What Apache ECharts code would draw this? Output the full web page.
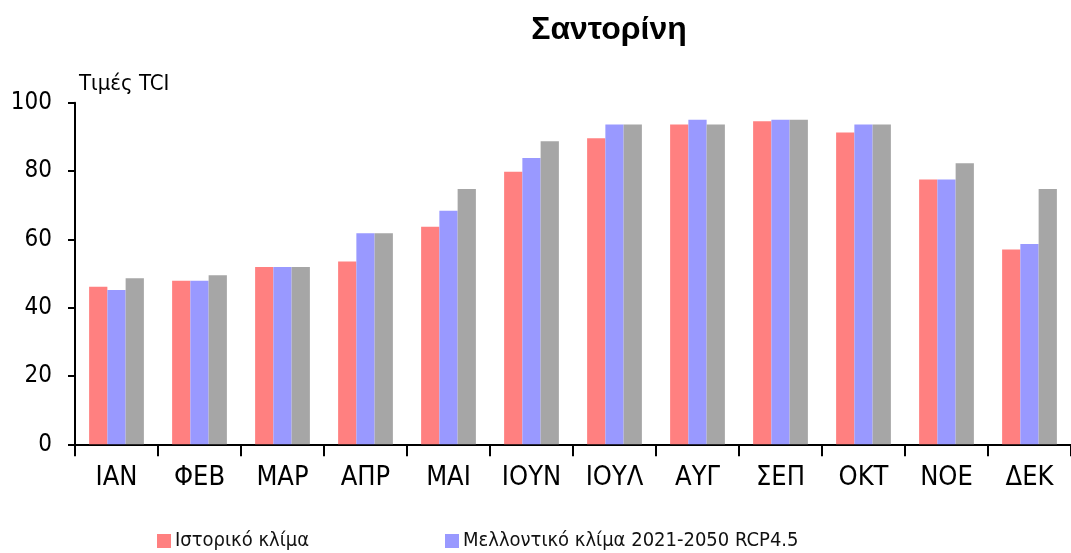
<!DOCTYPE html>
<html>
<head>
<meta charset="utf-8">
<script src="https://cdn.jsdelivr.net/npm/echarts@6/dist/echarts.min.js"></script>
<style>
  html, body { margin: 0; padding: 0; background: #ffffff; }
  #chart { width: 1071px; height: 553px; }
</style>
</head>
<body>
<div id="chart"></div>
<script>
// Monthly Tourism Climate Index (TCI) values for Santorini
const months = ['ΙΑΝ', 'ΦΕΒ', 'ΜΑΡ', 'ΑΠΡ', 'ΜΑΙ', 'ΙΟΥΝ', 'ΙΟΥΛ', 'ΑΥΓ', 'ΣΕΠ', 'ΟΚΤ', 'ΝΟΕ', 'ΔΕΚ'];
const historical = [46.1, 47.9, 51.9, 53.5, 63.7, 79.8, 89.6, 93.6, 94.6, 91.3, 77.5, 57.0];
const future2021 = [45.2, 47.9, 51.9, 61.8, 68.4, 83.8, 93.6, 95.0, 95.0, 93.6, 77.5, 58.6];
const future2071 = [48.6, 49.5, 51.9, 61.8, 74.7, 88.7, 93.6, 93.6, 95.0, 93.6, 82.3, 74.7];
const yTicks = [0, 20, 40, 60, 80, 100];

const seriesNames = ['Ιστορικό κλίμα', 'Μελλοντικό κλίμα 2021-2050 RCP4.5', 'Μελλοντικό κλίμα 2071-2100 RCP4.5'];
const colors = ['#ff8080', '#9999ff', '#a6a6a6'];

const narrow = "'Liberation Sans Narrow', 'DejaVu Sans Condensed', 'Liberation Sans', Arial, sans-serif";

const chart = echarts.init(document.getElementById('chart'), null, { renderer: 'canvas' });

const legendBase = {
  orient: 'horizontal',
  top: 526,
  itemWidth: 14,
  itemHeight: 14,
  itemGap: 6,
  icon: 'rect',
  textStyle: { fontFamily: narrow, fontSize: 20, color: '#111111', padding: [0, 0, 0, -1] }
};

chart.setOption({
  animation: false,
  backgroundColor: '#ffffff',
  title: {
    text: 'Σαντορίνη',
    left: 604,
    top: 9,
    textAlign: 'center',
    textStyle: { fontFamily: "'Liberation Sans', Arial, sans-serif", fontWeight: 'bold', fontSize: 32, color: '#000000' }
  },
  legend: [
    Object.assign({}, legendBase, { left: 152, data: [seriesNames[0]] }),
    Object.assign({}, legendBase, { left: 440, data: [seriesNames[1]] })
  ],
  grid: { left: 75, right: -6, top: 102.7, bottom: 553 - 444.3, containLabel: false },
  xAxis: {
    type: 'category',
    data: months,
    boundaryGap: true,
    axisLine: { lineStyle: { color: '#000000', width: 2 } },
    axisTick: { show: true, alignWithLabel: false, length: 12, lineStyle: { color: '#000000', width: 2 } },
    axisLabel: { margin: 20, fontFamily: narrow, fontSize: 27, color: '#000000' }
  },
  yAxis: {
    type: 'value',
    min: yTicks[0],
    max: yTicks[yTicks.length - 1],
    interval: 20,
    name: 'Τιμές TCI',
    nameLocation: 'end',
    nameGap: 7,
    nameTextStyle: { align: 'left', verticalAlign: 'bottom', fontFamily: narrow, fontSize: 22, color: '#000000', padding: [0, 0, 0, 4] },
    axisLine: { show: true, lineStyle: { color: '#000000', width: 2 } },
    axisTick: { show: true, inside: false, length: 7, lineStyle: { color: '#000000', width: 2 } },
    axisLabel: { margin: 23, fontFamily: narrow, fontSize: 24, color: '#000000' },
    splitLine: { show: false }
  },
  series: [
    { name: seriesNames[0], type: 'bar', data: historical, itemStyle: { color: colors[0] }, barGap: '0%', barCategoryGap: '34%' },
    { name: seriesNames[1], type: 'bar', data: future2021, itemStyle: { color: colors[1] }, barGap: '0%', barCategoryGap: '34%' },
    { name: seriesNames[2], type: 'bar', data: future2071, itemStyle: { color: colors[2] }, barGap: '0%', barCategoryGap: '34%' }
  ]
});
</script>
</body>
</html>
